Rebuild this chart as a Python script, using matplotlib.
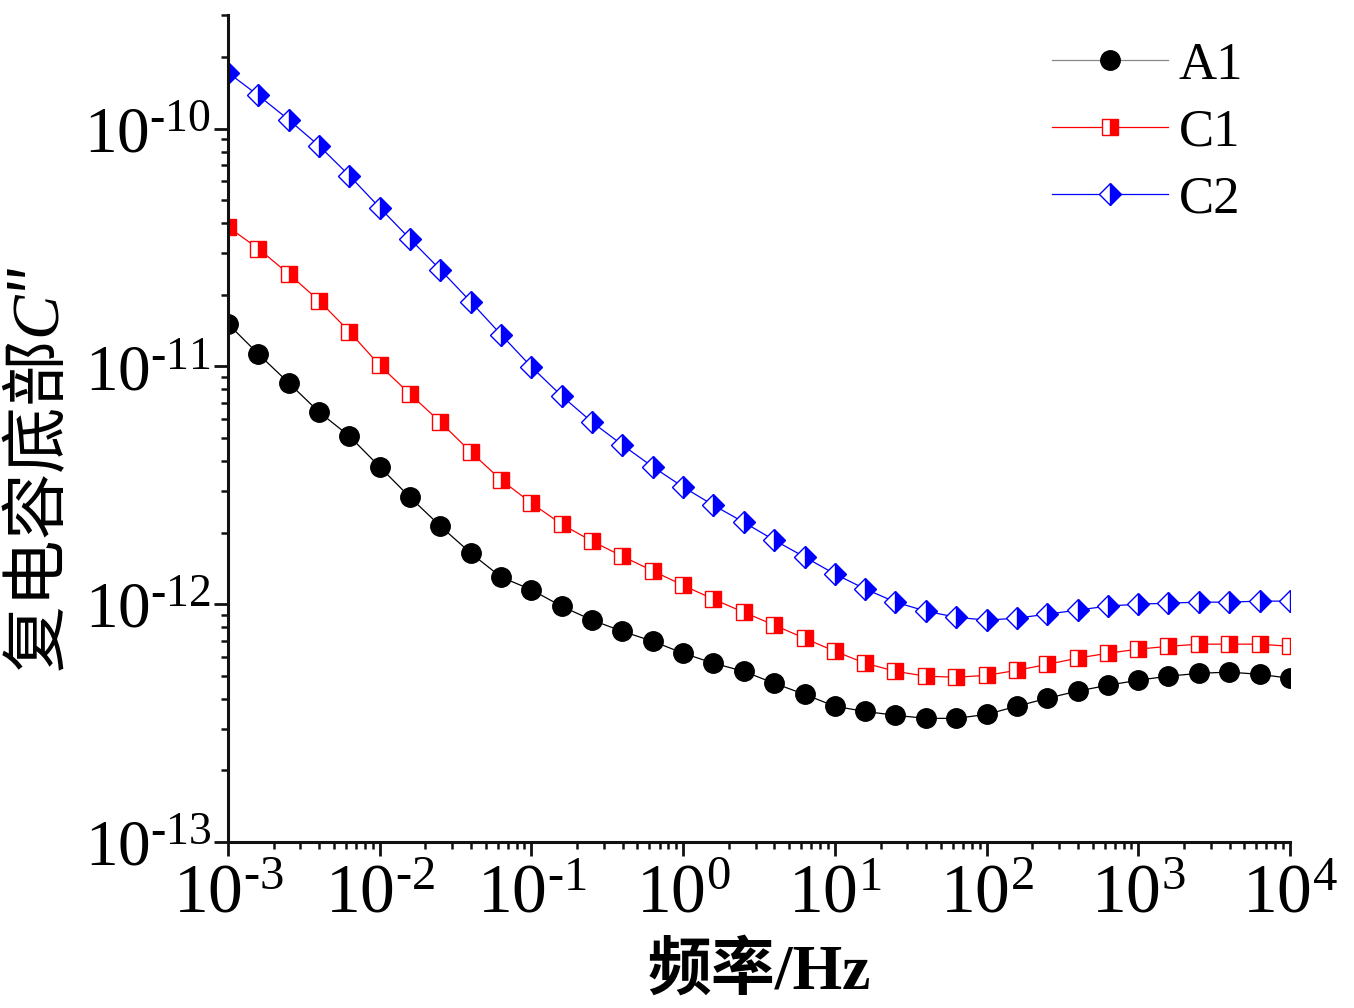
import matplotlib
matplotlib.use("Agg")
import matplotlib.pyplot as plt
from matplotlib.ticker import LogLocator, FuncFormatter, NullFormatter, FixedLocator
import numpy as np

# ---------------- data ----------------
freq = [1.00e-3, 1.58e-3, 2.51e-3, 3.98e-3, 6.31e-3,
        1.00e-2, 1.58e-2, 2.51e-2, 3.98e-2, 6.31e-2,
        1.00e-1, 1.58e-1, 2.51e-1, 3.98e-1, 6.31e-1,
        1.00e0, 1.58e0, 2.51e0, 3.98e0, 6.31e0,
        1.00e1, 1.58e1, 2.51e1, 3.98e1, 6.31e1,
        1.00e2, 1.58e2, 2.51e2, 3.98e2, 6.31e2,
        1.00e3, 1.58e3, 2.51e3, 3.98e3, 6.31e3,
        1.00e4]

A1 = [1.51e-11, 1.13e-11, 8.53e-12, 6.43e-12, 5.09e-12,
      3.78e-12, 2.82e-12, 2.13e-12, 1.64e-12, 1.30e-12,
      1.15e-12, 9.80e-13, 8.57e-13, 7.69e-13, 6.98e-13,
      6.22e-13, 5.65e-13, 5.22e-13, 4.65e-13, 4.18e-13,
      3.72e-13, 3.54e-13, 3.41e-13, 3.31e-13, 3.31e-13,
      3.44e-13, 3.72e-13, 4.02e-13, 4.31e-13, 4.56e-13,
      4.79e-13, 4.98e-13, 5.12e-13, 5.18e-13, 5.07e-13,
      4.88e-13]

C1 = [3.86e-11, 3.13e-11, 2.45e-11, 1.89e-11, 1.40e-11,
      1.01e-11, 7.66e-12, 5.83e-12, 4.37e-12, 3.33e-12,
      2.66e-12, 2.17e-12, 1.84e-12, 1.59e-12, 1.38e-12,
      1.20e-12, 1.05e-12, 9.25e-13, 8.17e-13, 7.19e-13,
      6.34e-13, 5.65e-13, 5.22e-13, 4.98e-13, 4.93e-13,
      5.02e-13, 5.27e-13, 5.58e-13, 5.93e-13, 6.22e-13,
      6.47e-13, 6.65e-13, 6.79e-13, 6.79e-13, 6.79e-13,
      6.65e-13]

C2 = [1.72e-10, 1.38e-10, 1.09e-10, 8.47e-11, 6.34e-11,
      4.65e-11, 3.44e-11, 2.55e-11, 1.87e-11, 1.36e-11,
      9.95e-12, 7.52e-12, 5.83e-12, 4.67e-12, 3.78e-12,
      3.11e-12, 2.61e-12, 2.21e-12, 1.86e-12, 1.58e-12,
      1.34e-12, 1.16e-12, 1.02e-12, 9.35e-13, 8.81e-13,
      8.57e-13, 8.73e-13, 9.08e-13, 9.44e-13, 9.82e-13,
      1.00e-12, 1.01e-12, 1.02e-12, 1.02e-12, 1.03e-12,
      1.03e-12]

series_labels = ["A1", "C1", "C2"]
x_ticks = [1e-3, 1e-2, 1e-1, 1e0, 1e1, 1e2, 1e3, 1e4]
y_ticks = [1e-13, 1e-12, 1e-11, 1e-10]
x_label = "频率/Hz"
y_label = "复电容底部$\\mathit{C}$\u2033"

# ---------------- style ----------------
plt.rcParams['font.family'] = ['Liberation Serif', 'Noto Sans CJK SC', 'DejaVu Sans']
plt.rcParams['mathtext.fontset'] = 'custom'
plt.rcParams['mathtext.rm'] = 'Liberation Serif'
plt.rcParams['mathtext.it'] = 'Liberation Serif:italic'
plt.rcParams['mathtext.bf'] = 'Liberation Serif:bold'

fig = plt.figure(figsize=(13.54, 10.08), dpi=100)
ax = fig.add_axes([0.1684, 0.1647, 0.7843, 0.8203])

ax.plot(freq, A1, color='black', lw=0.9, marker='o', ms=14,
        mfc='black', mec='black', label=series_labels[0])
ax.plot(freq, C1, color='red', lw=0.9, marker='s', ms=12,
        fillstyle='right', mfc='red', mfcalt='white', mec='red', mew=1.0,
        label=series_labels[1])
ax.plot(freq, C2, color='blue', lw=0.9, marker='D', ms=11.5,
        fillstyle='right', mfc='blue', mfcalt='white', mec='blue', mew=1.0,
        label=series_labels[2])

ax.set_xscale('log')
ax.set_yscale('log')
ax.set_xlim(1e-3, 1e4)
ax.set_ylim(1e-13, 3e-10)

for s in ['top', 'right']:
    ax.spines[s].set_visible(False)
for s in ['left', 'bottom']:
    ax.spines[s].set_linewidth(2.2)
    ax.spines[s].set_color('#111111')

ax.xaxis.set_major_locator(FixedLocator(x_ticks))
ax.yaxis.set_major_locator(FixedLocator(y_ticks))
ax.xaxis.set_minor_locator(LogLocator(base=10, subs=np.arange(2, 10), numticks=20))
ax.yaxis.set_minor_locator(LogLocator(base=10, subs=np.arange(2, 10), numticks=20))
ax.xaxis.set_minor_formatter(NullFormatter())
ax.yaxis.set_minor_formatter(NullFormatter())


def fmt(v, p):
    e = int(round(np.log10(v)))
    s = str(e).replace('-', r'\text{-}')
    return r"$\mathrm{10^{%s}}$" % s


ax.xaxis.set_major_formatter(FuncFormatter(fmt))
ax.yaxis.set_major_formatter(FuncFormatter(fmt))

ax.tick_params(axis='both', which='major', direction='out', length=10, width=2, color='#111111')
ax.tick_params(axis='both', which='minor', direction='out', length=5, width=1.8, color='#111111')
ax.tick_params(axis='x', which='major', labelsize=50, pad=6)
ax.tick_params(axis='y', which='major', labelsize=47, pad=2)

ax.set_xlabel(x_label, fontsize=46, fontweight='bold', labelpad=10)
ax.set_ylabel(y_label, fontsize=48, family=['Noto Sans CJK SC', 'DejaVu Sans'])
ax.yaxis.set_label_coords(-0.145, 0.45)

leg = ax.legend(loc='upper left', bbox_to_anchor=(0.776, 0.968), frameon=False,
                fontsize=38, handlelength=2.2, handletextpad=0.2,
                labelspacing=0.36, borderpad=0, borderaxespad=0)
leg.get_lines()[0].set_color('#888888')
leg.get_lines()[0].set_markerfacecolor('black')
leg.get_lines()[0].set_markeredgecolor('black')

fig.savefig("out.png", dpi=100)
